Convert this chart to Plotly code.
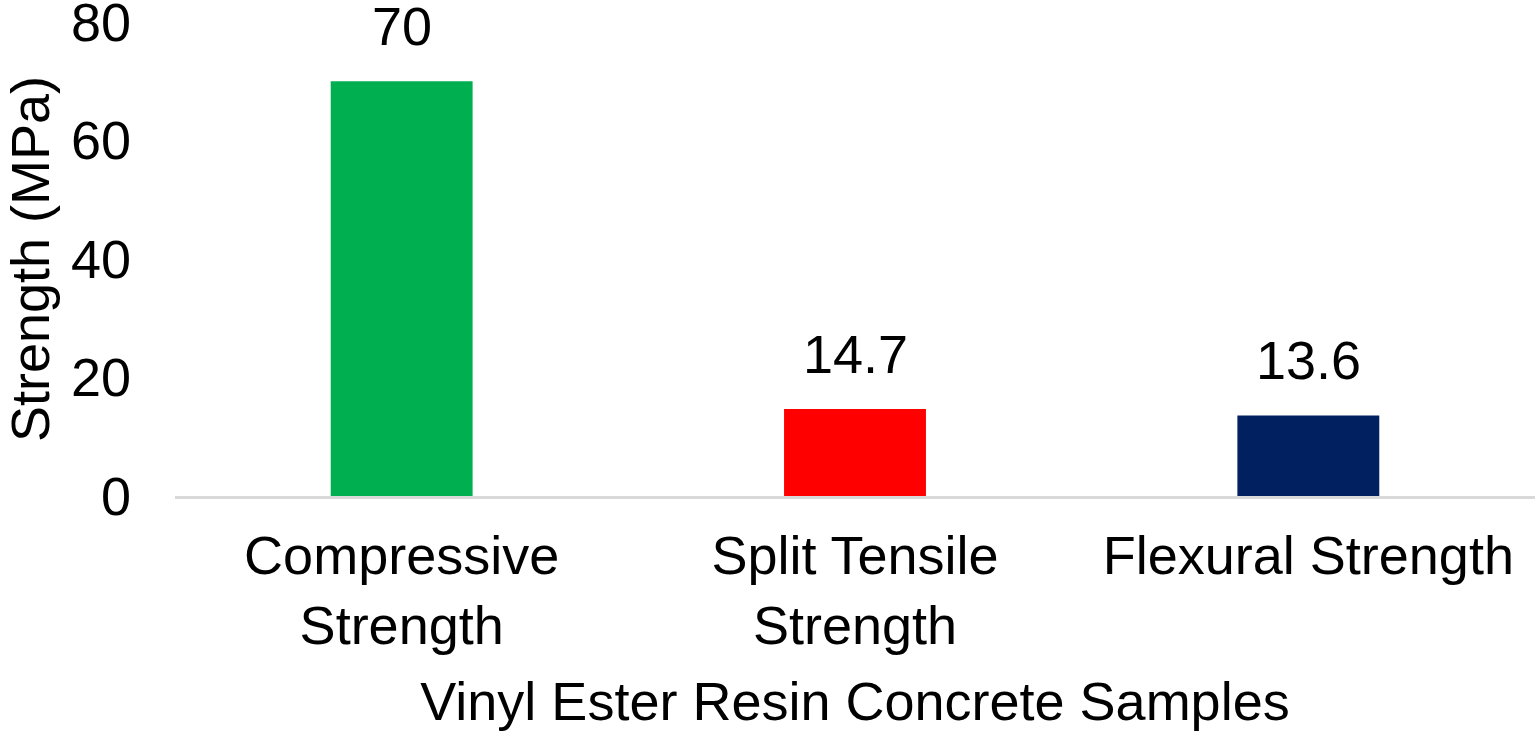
import plotly.graph_objects as go

categories = ["Compressive<br>Strength", "Split Tensile<br>Strength", "Flexural Strength"]
values = [70, 14.7, 13.6]
labels = ["70", "14.7", "13.6"]
colors = ["#00B050", "#FF0000", "#002060"]
y_ticks = [0, 20, 40, 60, 80]

FONT = "Liberation Sans, Arial, sans-serif"
FS = 54

fig = go.Figure()
fig.add_trace(go.Bar(x=categories, y=values, marker=dict(color=colors, line=dict(width=0)),
                     showlegend=False, hoverinfo="skip", cliponaxis=False))

for c, v, t in zip(categories, values, labels):
    fig.add_annotation(x=c, y=v, text=t, showarrow=False, yanchor="bottom",
                       yshift=23, font=dict(size=FS, color="black", family=FONT))

fig.update_layout(
    width=1535, height=733,
    margin=dict(l=175, r=0, t=22, b=237),
    paper_bgcolor="white", plot_bgcolor="white",
    bargap=0.687,
    font=dict(family=FONT, color="black", size=FS),
    xaxis=dict(
        showline=True, linecolor="#D9D9D9", linewidth=3,
        showgrid=False, ticks="", tickfont=dict(size=FS), automargin=False,
        ticklabelstandoff=10, ticklabeloverflow="allow",
        title=dict(text="Vinyl Ester Resin Concrete Samples", font=dict(size=FS), standoff=29),
    ),
    yaxis=dict(
        range=[0, 80], tickvals=y_ticks, showgrid=False, zeroline=False,
        showline=False, ticks="", tickfont=dict(size=FS), ticklabelstandoff=43,
        ticklabeloverflow="allow", automargin=False,
        title=dict(text="Strength (MPa)", font=dict(size=FS), standoff=28),
    ),
)

fig.write_html("out.html", config={"displayModeBar": False},
               post_script="document.body.style.margin='0';document.body.style.overflow='hidden';")
